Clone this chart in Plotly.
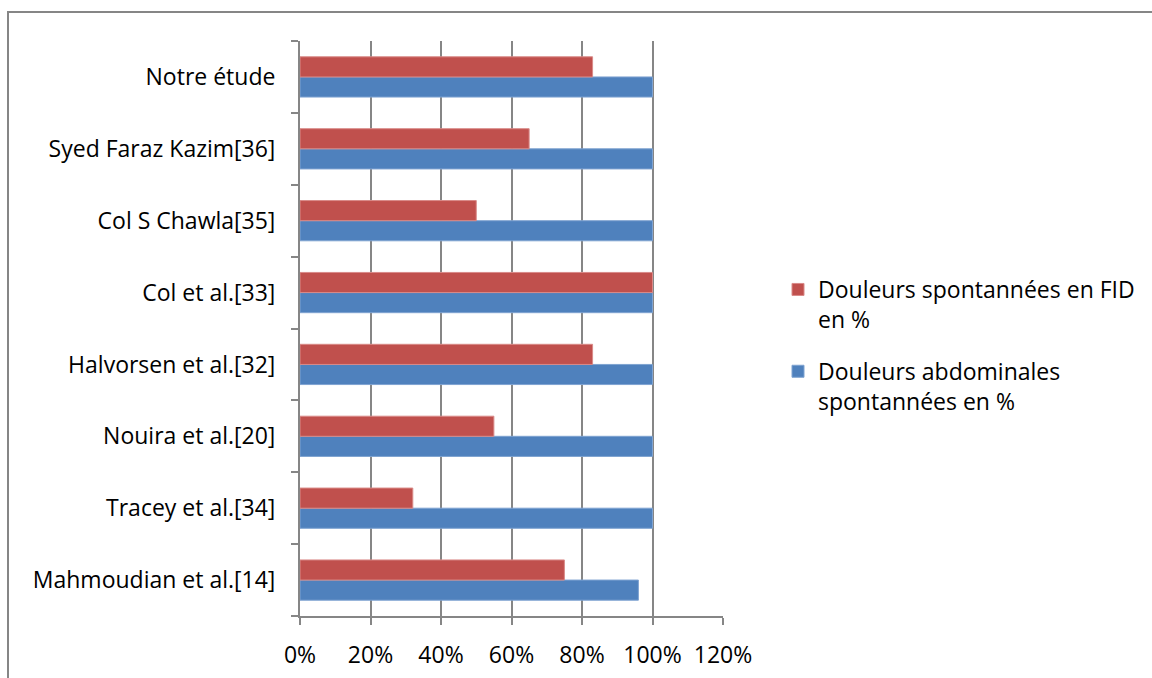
import plotly.graph_objects as go

categories = ["Mahmoudian et al.[14]", "Tracey et al.[34]", "Nouira et al.[20]",
              "Halvorsen et al.[32]", "Col et al.[33]", "Col S Chawla[35]",
              "Syed Faraz Kazim[36]", "Notre étude"]
abdominales = [96, 100, 100, 100, 100, 100, 100, 100]
fid = [75, 32, 55, 83, 100, 50, 65, 83]
x_ticks = [0, 20, 40, 60, 80, 100, 120]
x_labels = ["0%", "20%", "40%", "60%", "80%", "100%", "120%"]

FONT = "Open Sans"
FS = 23
GRID = "#868686"

fig = go.Figure()
fig.add_trace(go.Bar(
    y=categories, x=abdominales, orientation="h",
    name="Douleurs abdominales<br>spontannées en %", legendgroup="a", legendrank=2,
    marker=dict(color="#4F81BD", line=dict(color="#7FA3D1", width=1)),
))
fig.add_trace(go.Bar(
    y=categories, x=fid, orientation="h",
    name="Douleurs spontannées en FID<br>en %", legendgroup="b", legendrank=1,
    marker=dict(color="#C0504D", line=dict(color="#D98A88", width=1)),
))

W, H = 1152, 678
L, R, T, B = 300, 723, 41, 616

fig.update_layout(
    width=W, height=H,
    margin=dict(l=L, r=W - R, t=T, b=H - B, pad=0),
    paper_bgcolor="white", plot_bgcolor="white",
    barmode="group", bargap=0.44, bargroupgap=0,
    font=dict(family=FONT, size=FS, color="#000000"),
    legend=dict(
        x=(778 - L) / (R - L), xanchor="left",
        y=1 - (268 - T) / (B - T), yanchor="top",
        traceorder="grouped", tracegroupgap=19,
        valign="top",
        font=dict(family=FONT, size=FS, color="#000000"),
        itemwidth=30,
    ),
    showlegend=True,
)
fig.update_xaxes(
    range=[0, 120], tickvals=x_ticks, ticktext=x_labels,
    showgrid=True, gridcolor=GRID, gridwidth=2,
    showline=True, linecolor=GRID, linewidth=2,
    ticks="outside", ticklen=7, tickcolor=GRID, tickwidth=2,
    ticklabelstandoff=10, zeroline=False, automargin=False,
    tickfont=dict(family=FONT, size=FS),
)
fig.update_yaxes(
    type="category", categoryorder="array", categoryarray=categories,
    showline=True, linecolor=GRID, linewidth=2,
    ticks="outside", ticklen=7, tickcolor=GRID, tickwidth=2,
    tickson="boundaries", showgrid=False, automargin=False,
    ticklabelstandoff=18,
    tickfont=dict(family=FONT, size=FS),
)
# outer chart frame
fig.add_shape(type="rect", xref="paper", yref="paper",
              x0=(8 - L) / (R - L), x1=(W + 20 - L) / (R - L),
              y0=-(H + 20 - B) / (B - T), y1=1 + (T - 12) / (B - T),
              line=dict(color=GRID, width=2), fillcolor="rgba(0,0,0,0)", layer="below")

fig.write_html("out.html")
